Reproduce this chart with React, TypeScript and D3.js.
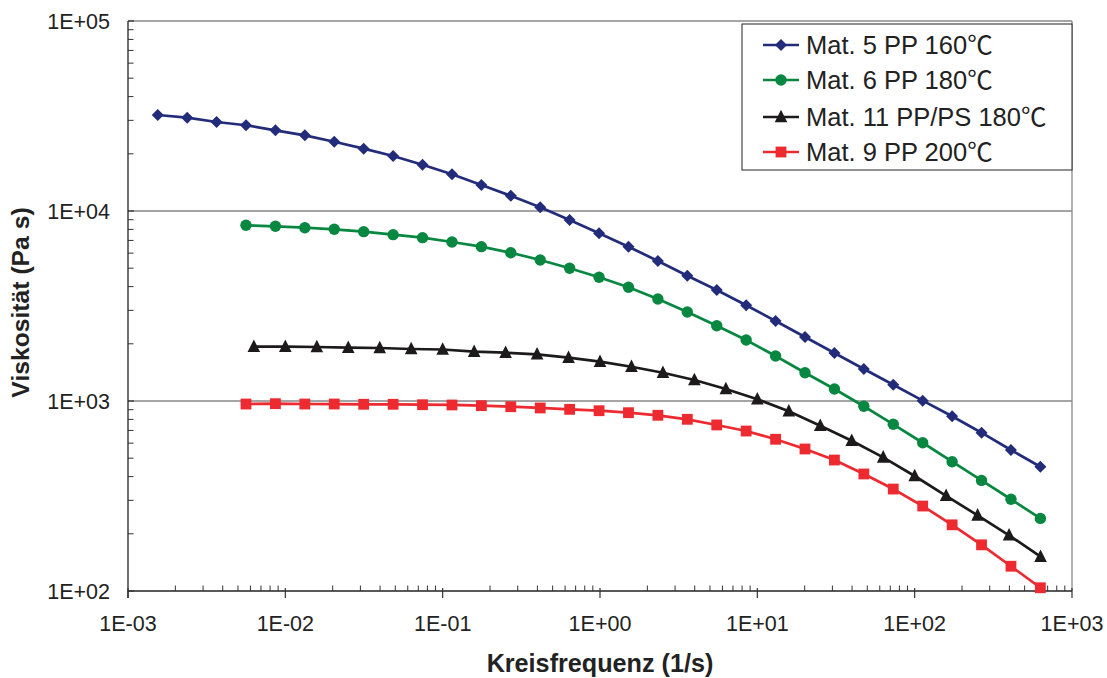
import React from "react";
import * as d3 from "d3";

// Frequency grid (1/s) shared by Mat. 5, Mat. 6 and Mat. 9
const freqA = [
  0.001545, 0.002377, 0.003656, 0.005623, 0.00865, 0.0133, 0.02046, 0.03148, 0.04842, 0.07447,
  0.1146, 0.1762, 0.271, 0.4169, 0.6412, 0.9863, 1.517, 2.333, 3.589, 5.521,
  8.492, 13.06, 20.09, 30.9, 47.53, 73.11, 112.5, 173.0, 266.1, 409.3, 629.5,
];
// Frequency grid for Mat. 11
const freqB = [
  0.00631, 0.01, 0.01585, 0.02512, 0.03981, 0.0631, 0.1, 0.1585, 0.2512, 0.3981,
  0.631, 1, 1.585, 2.512, 3.981, 6.31, 10, 15.85, 25.12, 39.81, 63.1, 100, 158.5, 251.2, 398.1, 631,
];

const mat5 = [
  32010, 30990, 29400, 28260, 26590, 25020, 23160, 21280, 19480, 17530,
  15600, 13700, 12030, 10460, 8970, 7630, 6490, 5460, 4565, 3839,
  3190, 2637, 2172, 1789, 1474, 1218, 1004, 831, 681, 552, 451,
];
const mat6 = [
  8410, 8309, 8168, 8012, 7784, 7506, 7238, 6869, 6490, 6033,
  5523, 4994, 4478, 3967, 3442, 2940, 2490, 2095, 1725, 1409,
  1157, 938, 754, 603, 479, 382, 304, 241,
];
const mat11 = [
  1931, 1931, 1924, 1908, 1901, 1878, 1867, 1818, 1796, 1761,
  1690, 1610, 1515, 1409, 1290, 1157, 1022, 883, 741, 618,
  505, 403, 317, 250, 196.5, 151.5,
];
const mat9 = [
  964, 968, 964, 964, 961, 961, 956, 953, 945, 933,
  919, 904, 889, 868, 841, 801, 748, 695, 629, 559,
  489, 413, 344, 280, 223, 175, 135, 104,
];

const seriesNames = ["Mat. 5 PP 160", "Mat. 6 PP 180", "Mat. 11 PP/PS 180", "Mat. 9 PP 200"];
const unit = "℃";
const xTickLabels = ["1E-03", "1E-02", "1E-01", "1E+00", "1E+01", "1E+02", "1E+03"];
const yTickLabels = ["1E+02", "1E+03", "1E+04", "1E+05"];

const W = 1107;
const H = 678;
const M = { left: 128, right: 1072, top: 21, bottom: 591 };
const FONT = "Liberation Sans, Arial, sans-serif";

type Series = { name: string; xs: number[]; ys: number[]; color: string; marker: string };

const series: Series[] = [
  { name: seriesNames[0], xs: freqA, ys: mat5, color: "#232c7a", marker: "diamond" },
  { name: seriesNames[1], xs: freqA.slice(3), ys: mat6, color: "#078740", marker: "circle" },
  { name: seriesNames[2], xs: freqB, ys: mat11, color: "#1c1a1b", marker: "triangle" },
  { name: seriesNames[3], xs: freqA.slice(3), ys: mat9, color: "#ec2a30", marker: "square" },
];

function Marker({ type, x, y, color }: { type: string; x: number; y: number; color: string }) {
  if (type === "diamond") {
    const s = 6;
    return <path d={`M${x},${y - s}L${x + s},${y}L${x},${y + s}L${x - s},${y}Z`} fill={color} />;
  }
  if (type === "circle") return <circle cx={x} cy={y} r={5.7} fill={color} />;
  if (type === "triangle") {
    const s = 6.3;
    return <path d={`M${x},${y - s - 1}L${x + s},${y + s - 1}L${x - s},${y + s - 1}Z`} fill={color} />;
  }
  return <rect x={x - 5.4} y={y - 5.4} width={10.8} height={10.8} fill={color} />;
}

export default function App() {
  const x = d3.scaleLog().domain([1e-3, 1e3]).range([M.left, M.right]);
  const y = d3.scaleLog().domain([1e2, 1e5]).range([M.bottom, M.top]);
  const line = d3
    .line<[number, number]>()
    .x((d) => x(d[0]))
    .y((d) => y(d[1]));

  const xMajor = xTickLabels.map((_, i) => Math.pow(10, -3 + i));
  const yMajor = yTickLabels.map((_, i) => Math.pow(10, 2 + i));
  const xMinor: number[] = [];
  for (let e = -3; e < 3; e++) for (let k = 2; k <= 9; k++) xMinor.push(k * Math.pow(10, e));
  const yMinor: number[] = [];
  for (let e = 2; e < 5; e++) for (let k = 2; k <= 9; k++) yMinor.push(k * Math.pow(10, e));

  const legendX = 742;
  const legendY = 24;
  const rowYs = [45, 80, 117, 152];

  return (
    <svg
      width={W}
      height={H}
      style={{ position: "absolute", left: 0, top: 0, background: "#fff" }}
      fontFamily={FONT}
    >
      {/* gridlines */}
      {yMajor.slice(1, 3).map((v) => (
        <line key={v} x1={M.left} x2={M.right} y1={y(v)} y2={y(v)} stroke="#4a4a4a" strokeWidth={1} />
      ))}
      {/* top & right frame */}
      <line x1={M.left} x2={M.right} y1={M.top} y2={M.top} stroke="#888" strokeWidth={1.3} />
      <line x1={M.right} x2={M.right} y1={M.top} y2={M.bottom} stroke="#888" strokeWidth={1.3} />

      {/* axes */}
      <line x1={M.left} x2={M.left} y1={M.top} y2={M.bottom + 7} stroke="#222" strokeWidth={1.3} />
      <line x1={M.left} x2={M.right} y1={M.bottom} y2={M.bottom} stroke="#222" strokeWidth={1.3} />
      {yMinor.map((v) => (
        <line key={"ym" + v} x1={M.left} x2={M.left + 5.5} y1={y(v)} y2={y(v)} stroke="#333" strokeWidth={1} />
      ))}
      {xMinor.map((v) => (
        <line key={"xm" + v} x1={x(v)} x2={x(v)} y1={M.bottom} y2={M.bottom - 5.5} stroke="#333" strokeWidth={1} />
      ))}
      {xMajor.map((v) => (
        <line key={"xM" + v} x1={x(v)} x2={x(v)} y1={M.bottom - 3} y2={M.bottom + 7} stroke="#333" strokeWidth={1.2} />
      ))}
      {yMajor.map((v) => (
        <line key={"yM" + v} x1={M.left} x2={M.left + 6} y1={y(v)} y2={y(v)} stroke="#333" strokeWidth={1.2} />
      ))}

      {/* tick labels */}
      {yMajor.map((v, i) => (
        <text key={"yl" + v} x={110} y={y(v)} dy="0.35em" textAnchor="end" fontSize={21.5} fill="#222">
          {yTickLabels[i]}
        </text>
      ))}
      {xMajor.map((v, i) => (
        <text key={"xl" + v} x={x(v)} y={631} textAnchor="middle" fontSize={21.5} fill="#222">
          {xTickLabels[i]}
        </text>
      ))}

      {/* axis titles */}
      <text x={600} y={672} textAnchor="middle" fontSize={25.2} fontWeight="bold" fill="#222">
        Kreisfrequenz (1/s)
      </text>
      <text
        transform={`translate(29,302.5) rotate(-90)`}
        textAnchor="middle"
        fontSize={24.7}
        fontWeight="bold"
        fill="#222"
      >
        Viskosität (Pa s)
      </text>

      {/* series */}
      {series.map((s) => {
        const pts = s.xs.map((xv, i) => [xv, s.ys[i]] as [number, number]);
        return (
          <g key={s.name}>
            <path d={line(pts) || ""} fill="none" stroke={s.color} strokeWidth={2.7} />
            {pts.map((p, i) => (
              <Marker key={i} type={s.marker} x={x(p[0])} y={y(p[1])} color={s.color} />
            ))}
          </g>
        );
      })}

      {/* legend */}
      <rect x={legendX} y={legendY} width={330} height={146} fill="#fff" stroke="#222" strokeWidth={1} />
      {series.map((s, i) => (
        <g key={"lg" + i}>
          <line x1={763} x2={799} y1={rowYs[i]} y2={rowYs[i]} stroke={s.color} strokeWidth={2.7} />
          <Marker type={s.marker} x={781} y={rowYs[i]} color={s.color} />
          <text x={806} y={rowYs[i]} dy="0.36em" fontSize={25.5} fill="#222">
            {s.name}
            <tspan fontFamily="Noto Sans CJK SC">{unit}</tspan>
          </text>
        </g>
      ))}
    </svg>
  );
}
